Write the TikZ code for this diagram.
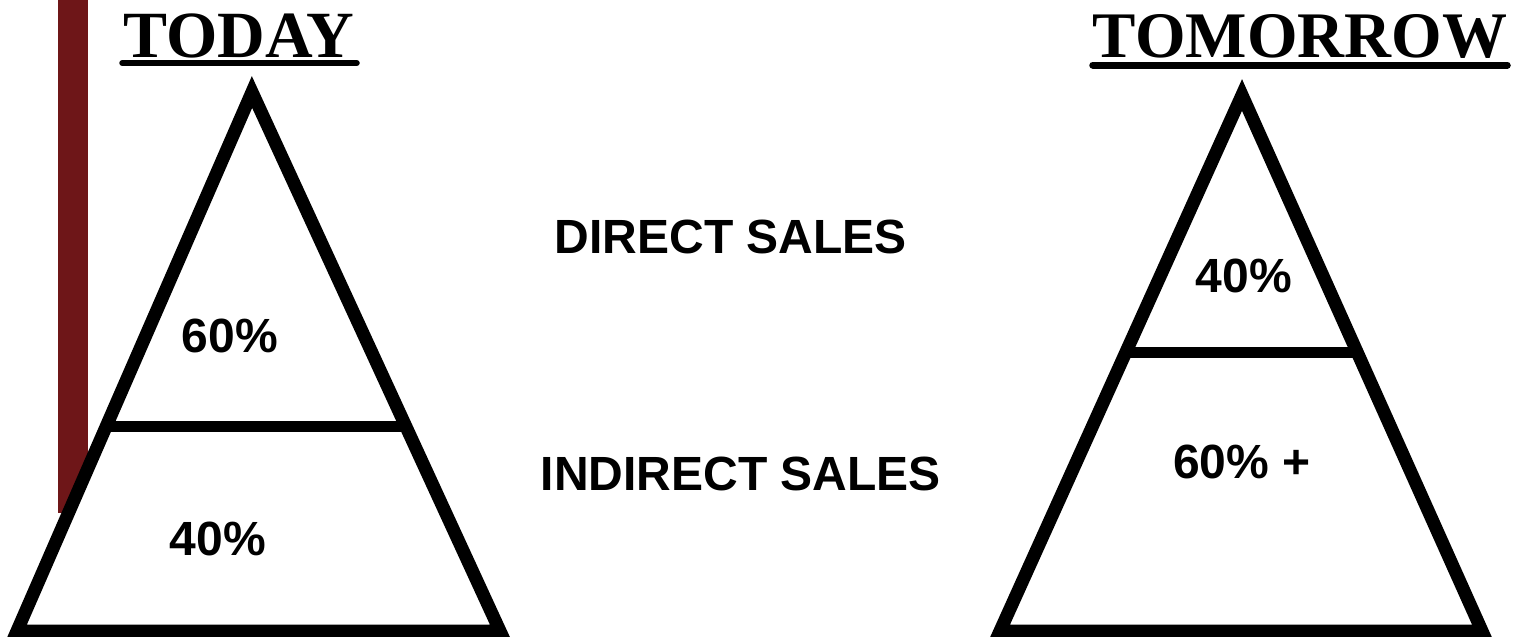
\documentclass[tikz,border=0pt]{standalone}
\usepackage{fontspec}
\setmainfont{Liberation Serif}
\setsansfont{Liberation Sans}
\usetikzlibrary{calc}
\definecolor{barred}{RGB}{110,22,24}
\begin{document}
\begin{tikzpicture}[x=1pt,y=-1pt,
  tri/.style={draw=black,line width=13pt,line join=miter,fill=white},
  divider/.style={draw=black,line width=11pt},
  ttl/.style={font=\fontsize{65}{70}\selectfont\bfseries,inner sep=0pt,anchor=base},
  lbl/.style={font=\sffamily\bfseries\fontsize{48}{52}\selectfont,inner sep=0pt,anchor=base},
  uline/.style={draw=black,line width=6pt,line cap=round}]
\useasboundingbox (0,0) rectangle (1513,637);
\fill[white] (0,0) rectangle (1513,637);
% vertical bar on the left
\fill[barred] (58,0) rectangle (88,513);
% titles
\node[ttl,font=\fontsize{66}{70}\selectfont\bfseries] (today) at (239,57) {TODAY};
\node[ttl] (tomorrow) at (1300,57) {TOMORROW};
\draw[uline] ([xshift=-1pt,yshift=-6pt]today.base west) -- ([xshift=2pt,yshift=-6pt]today.base east);
\draw[uline,line width=7pt] ([xshift=0pt,yshift=-8pt]tomorrow.base west) -- ([xshift=0pt,yshift=-8pt]tomorrow.base east);
% left pyramid
\coordinate (LA) at (252,92);
\coordinate (LB) at (17,631);
\coordinate (LC) at (500,631);
\draw[tri] (LA) -- (LB) -- (LC) -- cycle;
\draw[divider] ($(LA)!0.6215!(LB)$) -- ($(LA)!0.6215!(LC)$);
% right pyramid
\coordinate (RA) at (1242,95);
\coordinate (RB) at (1000,631);
\coordinate (RC) at (1482,631);
\draw[tri] (RA) -- (RB) -- (RC) -- cycle;
\draw[divider] ($(RA)!0.4795!(RB)$) -- ($(RA)!0.4795!(RC)$);
% labels
\node[lbl] (lsixty) at (230,352) {60\%};
\node[lbl] (lforty) at (218,555) {40\%};
\node[lbl] (rforty) at (1244,292) {40\%};
\node[lbl] (rsixty) at (1242,478) {60\% +};
\node[lbl] (direct) at (731,253) {DIRECT SALES};
\node[lbl] (indirect) at (741,490) {INDIRECT SALES};
\end{tikzpicture}
\end{document}
